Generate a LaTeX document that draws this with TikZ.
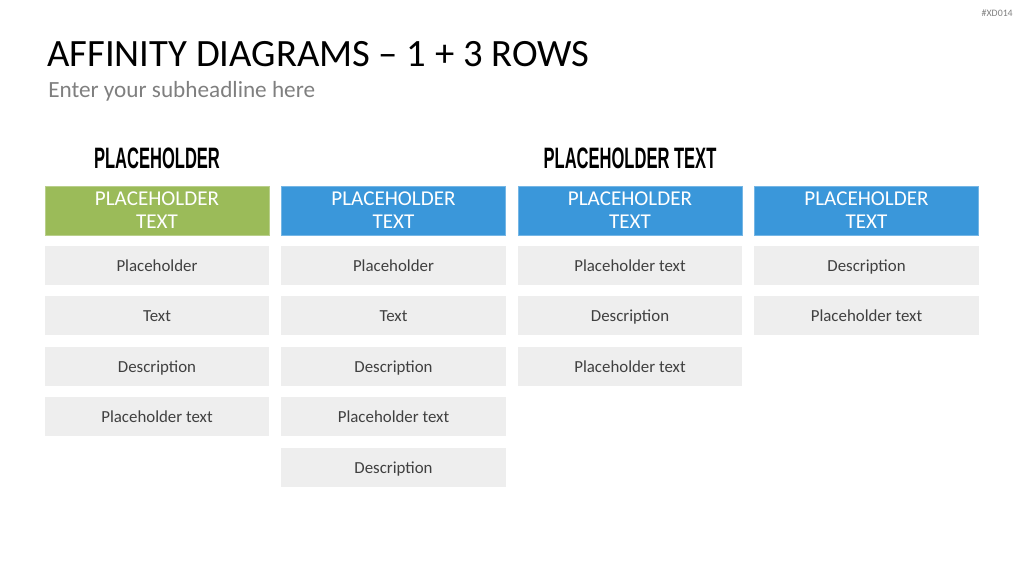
\documentclass[tikz,border=0pt]{standalone}
\usepackage{fontspec}
\setmainfont{Carlito}
\newfontfamily\bannerfont[FakeStretch=0.56]{Liberation Sans Bold}
\usetikzlibrary{positioning}
\definecolor{affgreen}{HTML}{9BBB59}
\definecolor{affblue}{HTML}{3A97DA}
\definecolor{affcard}{HTML}{EEEEEE}
\definecolor{afftext}{HTML}{404040}
\definecolor{affsub}{HTML}{7F7F7F}

\begin{document}
\begin{tikzpicture}[
    x=0.025cm, y=-0.025cm,
    group/.style={draw=#1!70!white, fill=#1, line width=0.6pt, minimum width=5.6cm, minimum height=1.225cm, inner sep=0pt, text=white, align=center, font=\fontsize{15}{16.5}\selectfont},
    card/.style={fill=affcard, minimum width=5.6cm, minimum height=0.975cm, inner sep=0pt, text height=2.1ex, text depth=0.3ex, text=afftext, font=\fontsize{12}{14}\selectfont},
    banner/.style={font=\bannerfont\fontsize{21}{24}\selectfont, text=black},
]
\useasboundingbox (0,0) rectangle (1024,576);

% Title and tag
\node[anchor=base west, font=\fontsize{27.5}{32}\selectfont, inner sep=0pt] (title) at (47,67) {AFFINITY DIAGRAMS -- 1 + 3 ROWS};
\node[anchor=base west, font=\fontsize{16.5}{20}\selectfont, text=affsub, inner sep=0pt] (subtitle) at (48,98) {Enter your subheadline here};
\node[anchor=base east, font=\fontsize{7}{8}\selectfont, text=affsub, inner sep=0pt] (tag) at (1013,17) {\#XD014};

% Banners
\node[banner] (bannerA) at (157,158) {PLACEHOLDER};
\node[banner] (bannerB) at (630,158) {PLACEHOLDER TEXT};

% Group headers
\node[group=affgreen] (headA) at (157,210.5) {PLACEHOLDER\\TEXT};
\node[group=affblue] (headB) at (393.5,210.5) {PLACEHOLDER\\TEXT};
\node[group=affblue] (headC) at (630,210.5) {PLACEHOLDER\\TEXT};
\node[group=affblue] (headD) at (866.5,210.5) {PLACEHOLDER\\TEXT};

% Column A
\node[card] (a1) at (157,265.5) {Placeholder};
\node[card] (a2) at (157,315.5) {Text};
\node[card] (a3) at (157,366.5) {Description};
\node[card] (a4) at (157,416.5) {Placeholder text};

% Column B
\node[card] (b1) at (393.5,265.5) {Placeholder};
\node[card] (b2) at (393.5,315.5) {Text};
\node[card] (b3) at (393.5,366.5) {Description};
\node[card] (b4) at (393.5,416.5) {Placeholder text};
\node[card] (b5) at (393.5,467.5) {Description};

% Column C
\node[card] (c1) at (630,265.5) {Placeholder text};
\node[card] (c2) at (630,315.5) {Description};
\node[card] (c3) at (630,366.5) {Placeholder text};

% Column D
\node[card] (d1) at (866.5,265.5) {Description};
\node[card] (d2) at (866.5,315.5) {Placeholder text};

\end{tikzpicture}
\end{document}
